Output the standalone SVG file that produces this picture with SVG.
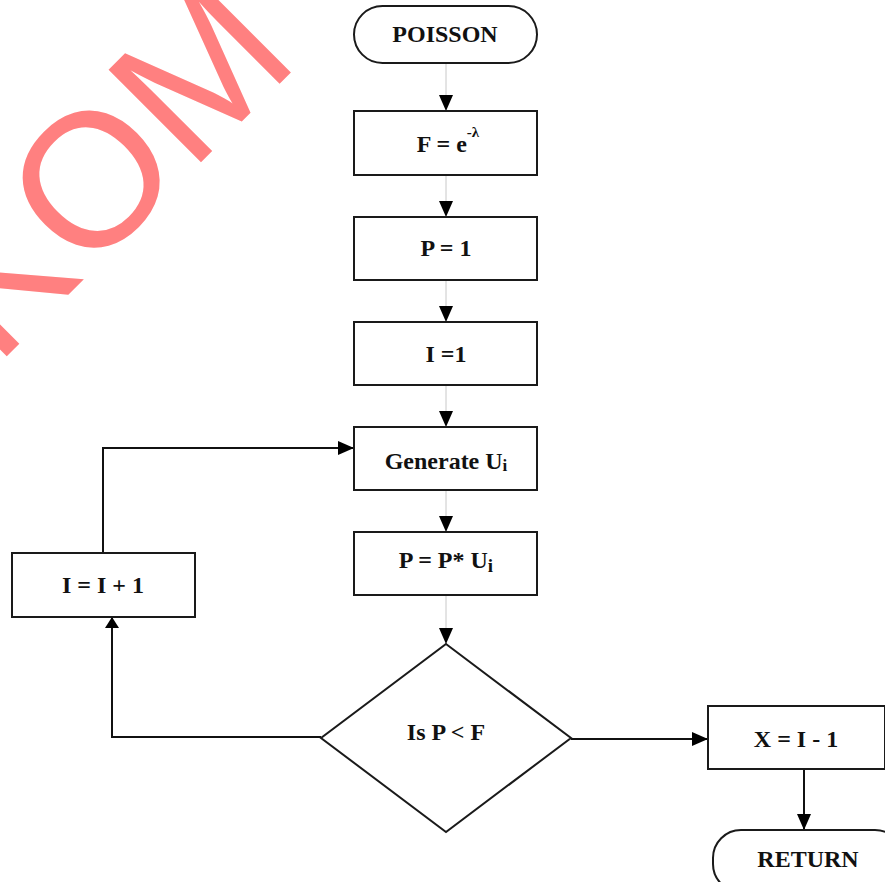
<svg xmlns="http://www.w3.org/2000/svg" width="885" height="882" viewBox="0 0 885 882">
<style>
.box{fill:#fff;stroke:#1a1a1a;stroke-width:2}
.t{font-family:"Liberation Serif","Times New Roman",serif;font-weight:bold;font-size:24px;fill:#111;text-anchor:middle}
.thin{stroke:#c8c8c8;stroke-width:1;fill:none}
.thick{stroke:#111;stroke-width:2;fill:none}
.wm{font-family:"Liberation Sans",Arial,sans-serif;font-size:190px;fill:#ff8080}
</style>
<defs>
<marker id="ah" viewBox="0 0 16 14" refX="16" refY="7" markerWidth="16" markerHeight="14" markerUnits="userSpaceOnUse" orient="auto">
<path d="M0,0 L16,7 L0,14 z" fill="#000"/>
</marker>
<marker id="ahs" viewBox="0 0 11 14" refX="11" refY="7" markerWidth="11" markerHeight="14" markerUnits="userSpaceOnUse" orient="auto">
<path d="M0,0 L11,7 L0,14 z" fill="#000"/>
</marker>
</defs>
<rect width="885" height="882" fill="#fff"/>
<text class="wm" transform="translate(-4.2,367.3) rotate(-45)">KOM</text>
<g id="connectors">
<path class="thin" d="M446,63 V111" marker-end="url(#ah)"/>
<path class="thin" d="M446,175 V217" marker-end="url(#ah)"/>
<path class="thin" d="M446,280 V322" marker-end="url(#ah)"/>
<path class="thin" d="M446,385 V427" marker-end="url(#ah)"/>
<path class="thin" d="M446,490 V532" marker-end="url(#ah)"/>
<path class="thin" d="M446,595 V644" marker-end="url(#ah)"/>
<path class="thick" d="M321,737 H112 V617" marker-end="url(#ahs)"/>
<path class="thick" d="M103,553 V448 H354" marker-end="url(#ah)"/>
<path class="thick" d="M571,739 H708" marker-end="url(#ah)"/>
<path class="thick" d="M804,769 V830" marker-end="url(#ah)"/>
</g>
<g id="poisson">
<rect class="box" x="354" y="6" width="183" height="57" rx="28.5"/>
<text class="t" x="445" y="42">POISSON</text>
</g>
<g id="f">
<rect class="box" x="354" y="111" width="183" height="64"/>
<text class="t" x="448" y="152">F = e<tspan font-size="15" dy="-15">-λ</tspan></text>
</g>
<g id="p1">
<rect class="box" x="354" y="217" width="183" height="63"/>
<text class="t" x="446" y="256">P = 1</text>
</g>
<g id="i1">
<rect class="box" x="354" y="322" width="183" height="63"/>
<text class="t" x="446" y="362">I =1</text>
</g>
<g id="generate">
<rect class="box" x="354" y="427" width="183" height="63"/>
<text class="t" x="446" y="469">Generate U<tspan font-size="17" dy="2">i</tspan></text>
</g>
<g id="pmul">
<rect class="box" x="354" y="532" width="183" height="63"/>
<text class="t" x="446" y="568">P = P* U<tspan font-size="19" dy="4">i</tspan></text>
</g>
<g id="decision">
<polygon class="box" points="446,644 571,738 446,832 321,738"/>
<text class="t" x="446" y="740">Is P &lt; F</text>
</g>
<g id="inc">
<rect class="box" x="12" y="553" width="183" height="64"/>
<text class="t" x="103" y="593">I = I + 1</text>
</g>
<g id="x">
<rect class="box" x="708" y="706" width="177" height="63"/>
<text class="t" x="796" y="747">X = I - 1</text>
</g>
<g id="return">
<rect class="box" x="713" y="830" width="190" height="62" rx="28"/>
<text class="t" x="808" y="867">RETURN</text>
</g>
</svg>
